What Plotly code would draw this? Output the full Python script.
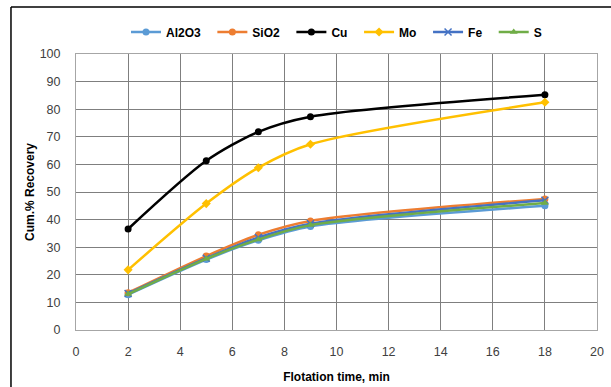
import plotly.graph_objects as go

time_min = [2, 5, 7, 9, 18]
al2o3 = [12.8, 25.5, 32.5, 37.5, 45.0]
sio2 = [13.5, 26.8, 34.5, 39.5, 47.5]
cu = [36.6, 61.3, 71.8, 77.3, 85.2]
mo = [21.8, 45.8, 58.8, 67.3, 82.5]
fe = [13.2, 26.0, 33.5, 38.5, 47.0]
s = [13.0, 25.8, 32.8, 38.0, 46.0]

series = [
    ("Al2O3", al2o3, "#5B9BD5", "circle"),
    ("SiO2", sio2, "#ED7D31", "circle"),
    ("Cu", cu, "#000000", "circle"),
    ("Mo", mo, "#FFC000", "diamond"),
    ("Fe", fe, "#4472C4", "x-thin-open"),
    ("S", s, "#70AD47", "triangle-up"),
]

fig = go.Figure()
for i, (name, vals, color, sym) in enumerate(series):
    label = name + ("\u00a0\u00a0" if i < len(series) - 1 else "")
    fig.add_trace(go.Scatter(
        x=time_min, y=vals, name=label, mode="lines+markers",
        line=dict(color=color, width=2.5, shape="spline", smoothing=0.8),
        marker=dict(symbol=sym, size=7, color=color,
                    line=dict(color=color, width=1.5 if sym.startswith("x") else 0)),
    ))

axis_common = dict(
    showgrid=True, gridcolor="#7f7f7f", gridwidth=1,
    showline=True, linecolor="#a6a6a6", linewidth=1, mirror=True,
    zeroline=False, ticks="", automargin=False,
    tickfont=dict(family="Liberation Sans, Arial", size=12.5, color="#404040"),
)

fig.update_layout(
    width=611, height=387,
    margin=dict(l=76, r=14, t=54, b=57, autoexpand=False),
    paper_bgcolor="white", plot_bgcolor="white",
    font=dict(family="Liberation Sans, Arial", size=12, color="#000000"),
    legend=dict(orientation="h", x=0.5, xanchor="center",
                yref="container", y=1 - 32 / 387, yanchor="middle",
                font=dict(family="Liberation Sans, Arial", size=12, color="#000000", weight="bold"),
                itemwidth=30, tracegroupgap=0, bgcolor="rgba(0,0,0,0)"),
    xaxis=dict(range=[0, 20], dtick=2, ticklabelstandoff=10,
               title=dict(text="<b>Flotation time, min</b>", font=dict(size=12), standoff=14),
               **axis_common),
    yaxis=dict(range=[0, 100], dtick=10, ticklabelstandoff=12,
               title=dict(text="<b>Cum.% Recovery</b>", font=dict(size=12), standoff=2),
               **axis_common),
    showlegend=True,
)

# outer frame lines (partially visible in the reference)
fig.add_shape(type="line", xref="paper", yref="paper", x0=-0.1248, x1=-0.1248,
              y0=1.17, y1=-0.3, line=dict(color="black", width=1.5))
fig.add_shape(type="line", xref="paper", yref="paper", x0=-0.1248, x1=1.1,
              y0=1.17, y1=1.17, line=dict(color="black", width=1.5))

fig.write_html("out.html")
